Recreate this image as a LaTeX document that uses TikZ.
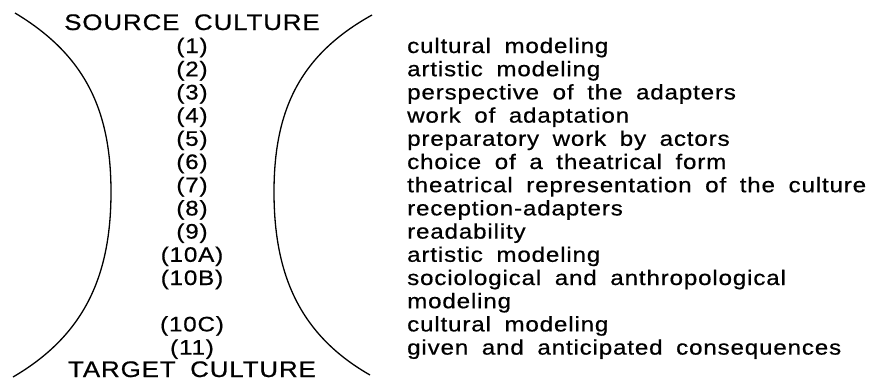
\documentclass[tikz,border=0pt]{standalone}
\usepackage{fontspec}
\newfontfamily\scanfont[FakeStretch=1.15,LetterSpace=4,WordSpace=1.8,FakeBold=0.6]{Liberation Sans}
\usepackage{tikz}

\begin{document}
\begin{tikzpicture}[x=1pt,y=-1pt,
  capt/.style={anchor=base,inner sep=0pt,font=\scanfont\fontsize{22.5}{26}\selectfont},
  num/.style={anchor=base,inner sep=0pt,font=\scanfont\fontsize{21}{25}\selectfont},
  item/.style={anchor=base west,inner sep=0pt,font=\scanfont\fontsize{21}{25}\selectfont}]
\useasboundingbox (0,0) rectangle (871,381);
% the two bows
\draw[line width=1.3pt](15,13)..controls(85,55)and(111,110)..(111,192)..controls(111,275)and(85,335)..(13,377);
\draw[line width=1.3pt](372,15)..controls(300,55)and(274,110)..(274,192)..controls(274,275)and(300,335)..(370,375);
\node[capt](src)at(192,30){SOURCE CULTURE};
\node[capt](tgt)at(192,377){TARGET CULTURE};
% numbers and what they stand for
\foreach \k/\n/\t in {0/1/cultural modeling,1/2/artistic modeling,2/3/perspective of the adapters,
  3/4/work of adaptation,4/5/preparatory work by actors,5/6/choice of a theatrical form,
  6/7/theatrical representation of the culture,7/8/reception-adapters,8/9/readability,
  9/10A/artistic modeling,10/10B/sociological and anthropological,12/10C/cultural modeling,
  13/11/given and anticipated consequences}{
  \node[num](n\n)at(192,53+23.2*\k){(\n)};
  \node[item](t\n)at(407,53+23.2*\k){\t};
}
\node[item](t10Bb)at(407,53+23.2*11){modeling};
\end{tikzpicture}
\end{document}
